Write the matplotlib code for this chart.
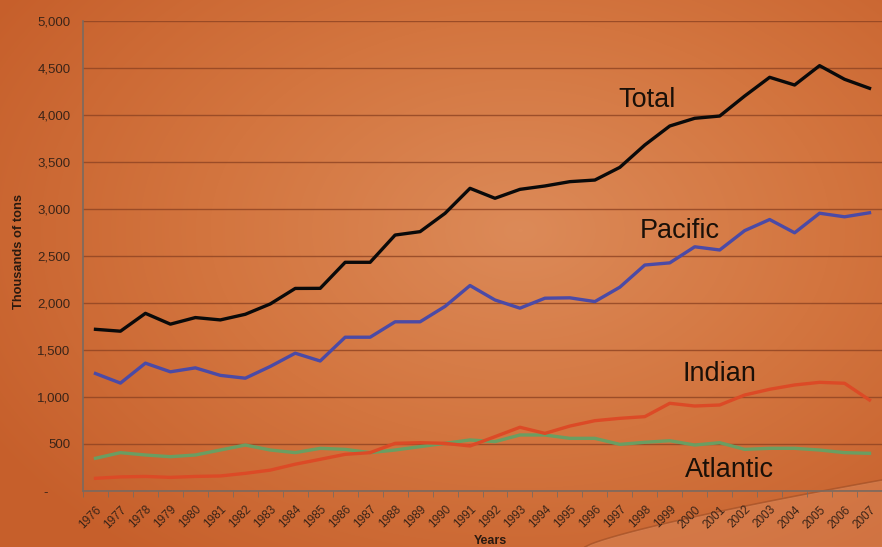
import numpy as np
import matplotlib.pyplot as plt
from matplotlib.colors import LinearSegmentedColormap
from matplotlib.ticker import FuncFormatter
from matplotlib.transforms import ScaledTranslation

plt.rcParams['font.family'] = ['Liberation Sans', 'DejaVu Sans']

years = [str(y) for y in range(1976, 2008)]

total = [1720, 1700, 1890, 1775, 1845, 1820, 1880, 1990, 2155, 2156, 2433, 2433,
         2723, 2759, 2954, 3220, 3114, 3209, 3245, 3291, 3308, 3443, 3681, 3883,
         3965, 3989, 4202, 4401, 4319, 4525, 4380, 4284]
pacific = [1250, 1148, 1360, 1268, 1310, 1230, 1200, 1325, 1466, 1383, 1636, 1636,
           1800, 1800, 1964, 2186, 2032, 1945, 2051, 2055, 2015, 2168, 2404, 2427,
           2598, 2564, 2770, 2888, 2747, 2955, 2917, 2960]
indian = [135, 150, 155, 145, 155, 160, 188, 222, 285, 337, 390, 408,
          507, 514, 507, 479, 578, 678, 613, 691, 748, 773, 791, 933,
          904, 915, 1021, 1082, 1128, 1156, 1146, 968]
atlantic = [348, 408, 383, 365, 383, 436, 489, 436, 408, 454, 443, 408,
            436, 472, 507, 543, 525, 596, 596, 560, 560, 496, 518, 535,
            489, 514, 443, 454, 454, 436, 408, 401]

fig = plt.figure(figsize=(8.82, 5.47), dpi=100)

# orange slide background, lighter in the middle
bg = fig.add_axes([0, 0, 1, 1], zorder=-10)
yy, xx = np.mgrid[0:547, 0:882]
r = np.sqrt(((xx - 520) / 620.0) ** 2 + ((yy - 230) / 420.0) ** 2)
cmap = LinearSegmentedColormap.from_list('slide', ['#dc8a58', '#d3753f', '#c65f2b'])
bg.imshow(np.clip(r, 0, 1), cmap=cmap, aspect='auto', extent=[0, 882, 547, 0])
t = np.linspace(0, 1, 50)
bg.plot(585 + 297 * t, 547 - 67 * t ** 0.8, color='#9a4a22', lw=1.2, alpha=0.6)
bg.fill_between(585 + 297 * t, 547 - 67 * t ** 0.8, 547, color='#e2956a', alpha=0.35)
bg.set_xlim(0, 882)
bg.set_ylim(547, 0)
bg.axis('off')

ax = fig.add_axes([83 / 882, 56 / 547, 799 / 882, 470 / 547])
ax.patch.set_alpha(0)
x = np.arange(len(years))

ax.plot(x, atlantic, color='#6a9e62', lw=2.4, solid_joinstyle='round', zorder=3)
ax.plot(x, indian, color='#dc4a26', lw=2.4, solid_joinstyle='round', zorder=4)
ax.plot(x, pacific, color='#4b4aa6', lw=2.4, solid_joinstyle='round', zorder=5)
ax.plot(x, total, color='#0a0a0a', lw=2.4, solid_joinstyle='round', zorder=6)

ax.set_xlim(-0.47, 31.1)
ax.set_ylim(0, 5000)
ax.set_yticks(range(0, 5001, 500))
ax.yaxis.set_major_formatter(FuncFormatter(lambda v, p: '-      ' if v == 0 else f'{int(v):,}'))
ax.grid(axis='y', color='#8e4322', lw=1, alpha=0.8)
ax.set_axisbelow(True)

ax.set_xticks(x)
ax.set_xticklabels(years, rotation=45, ha='right', va='top', rotation_mode='anchor')
shift = ScaledTranslation(-5 / 100, 0, fig.dpi_scale_trans)
for lbl in ax.get_xticklabels():
    lbl.set_transform(lbl.get_transform() + shift)
ax.set_xticks(np.arange(-0.5, 31.6, 1), minor=True)
ax.tick_params(axis='x', which='major', length=0, pad=9, labelsize=8.5, labelcolor='#3a2418')
ax.tick_params(axis='x', which='minor', length=4, color='#7a6a60', direction='out')
ax.tick_params(axis='y', length=0, pad=9, labelsize=9.5, labelcolor='#3a2418')

for s in ['top', 'right']:
    ax.spines[s].set_visible(False)
for s in ['left', 'bottom']:
    ax.spines[s].set_color('#7a6a60')
    ax.spines[s].set_linewidth(1.2)

ax.set_ylabel('Thousands of tons', fontsize=9.3, fontweight='bold', color='#2a1a10')
ax.set_xlabel('Years', fontsize=9, fontweight='bold', color='#2a1a10')
ax.yaxis.set_label_coords(-0.072, 0.51)
ax.xaxis.set_label_coords(0.51, -0.094)

lab = dict(fontsize=19.5, color='#1a1008', ha='center', va='center')
ax.text(22.1, 4160, 'Total', **lab)
ax.text(23.4, 2766, 'Pacific', **lab)
ax.text(25.0, 1245, 'Indian', **lab)
ax.text(25.4, 223, 'Atlantic', **lab)

fig.savefig('out.png', dpi=100)
